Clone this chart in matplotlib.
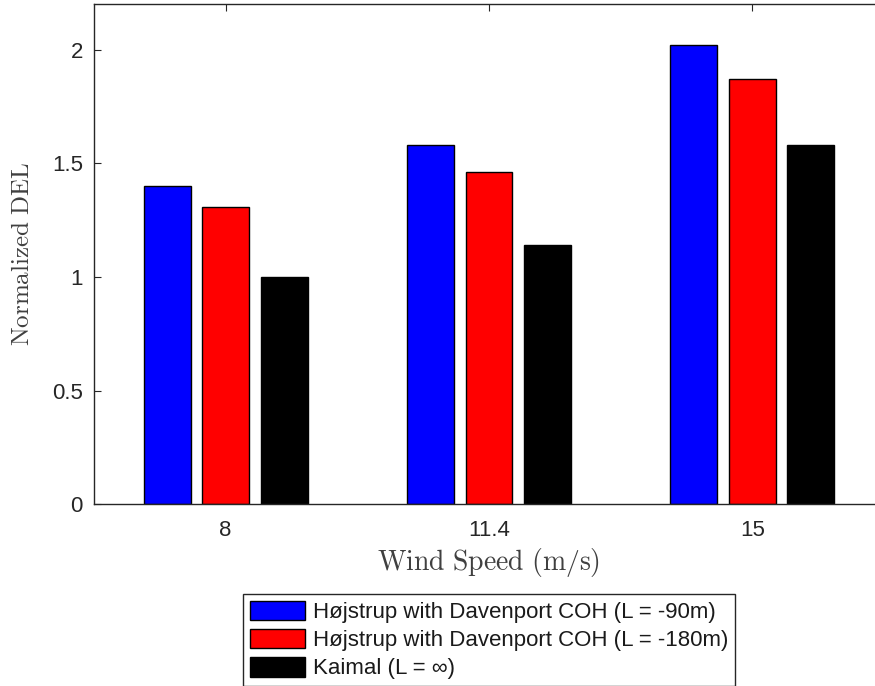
import matplotlib
matplotlib.use("Agg")
import matplotlib.pyplot as plt
import numpy as np

# Data
wind_speeds = ["8", "11.4", "15"]
del_hojstrup_90 = [1.40, 1.58, 2.02]
del_hojstrup_180 = [1.31, 1.46, 1.87]
del_kaimal = [1.00, 1.14, 1.58]
series_labels = [
    "Højstrup with Davenport COH (L = -90m)",
    "Højstrup with Davenport COH (L = -180m)",
    "Kaimal (L = \u221e)",
]
series_colors = ["#0000ff", "#ff0000", "#000000"]
y_ticks = [0, 0.5, 1, 1.5, 2]
y_tick_labels = ["0", "0.5", "1", "1.5", "2"]

plt.rcParams["font.family"] = ["Liberation Sans", "DejaVu Sans"]
plt.rcParams["mathtext.fontset"] = "cm"

fig = plt.figure(figsize=(8.75, 6.86), dpi=100)
W, H = 875, 686
# axes box in pixels: left 94, right 884 (runs past the canvas), y=0 at 504.3, top at 4.3
ax = fig.add_axes([94 / W, (H - 504.3) / H, 790 / W, 500 / H])

axis_gray = "#262626"
x = np.arange(1, len(wind_speeds) + 1)
n = 3
group_width = min(0.8, n / (n + 1.5))
step = group_width / n
bar_w = 0.8 * step
all_series = [del_hojstrup_90, del_hojstrup_180, del_kaimal]
handles = []
for i, (vals, col, lab) in enumerate(zip(all_series, series_colors, series_labels)):
    offs = (i - (n - 1) / 2) * step
    b = ax.bar(x + offs, vals, width=bar_w, color=col, edgecolor="black",
               linewidth=1.0, label=lab, zorder=2)
    handles.append(b)

ax.set_xlim(0.5, 3.5)
ax.set_ylim(0, 2.2)
ax.set_xticks(x)
ax.set_xticklabels(wind_speeds)
ax.set_yticks(y_ticks)
ax.set_yticklabels(y_tick_labels)

for s in ax.spines.values():
    s.set_color(axis_gray)
    s.set_linewidth(1.0)
ax.tick_params(axis="both", direction="in", length=5, width=0.8, color=axis_gray,
               labelcolor=axis_gray, labelsize=16, top=True, right=True)
ax.tick_params(axis="x", pad=11)
ax.tick_params(axis="y", pad=8)

ax.set_xlabel(r"$\mathrm{Wind\ Speed\ (m/s)}$", fontsize=20, color="#404040")
ax.xaxis.set_label_coords(0.5, -0.083)
ax.set_ylabel(r"$\mathrm{Normalized\ DEL}$", fontsize=18, color="#404040")
ax.yaxis.set_label_coords(-0.076, 0.5)

leg = fig.legend(handles=handles, labels=series_labels, loc="upper left",
                 bbox_to_anchor=(243 / W, 1 - 594 / H), borderaxespad=0,
                 fontsize=16, frameon=True, fancybox=False, framealpha=1,
                 edgecolor=axis_gray, handlelength=2.48, handleheight=0.99,
                 handletextpad=0.36, labelspacing=0.25, borderpad=0.3)
leg.get_frame().set_linewidth(1.0)
for t in leg.get_texts():
    t.set_color("#1a1a1a")

fig.savefig("out.png", dpi=100)
